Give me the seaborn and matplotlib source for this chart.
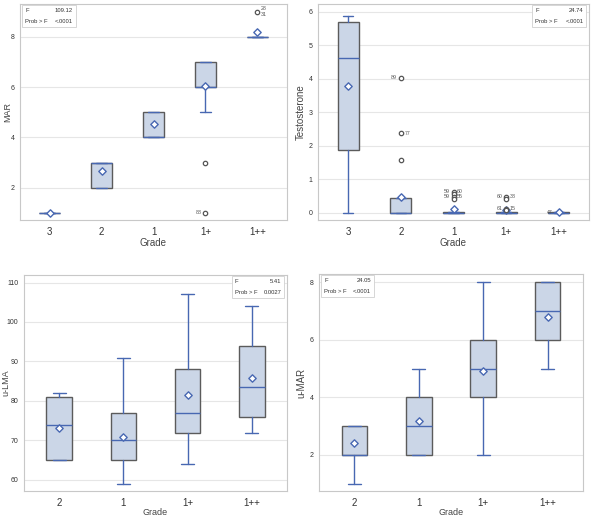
import numpy as np
import pandas as pd
import matplotlib
matplotlib.use("Agg")
import matplotlib.pyplot as plt
from matplotlib.patches import Rectangle
import seaborn as sns

# ---- data (box summary per grade) ----
mar_grades = ["3", "2", "1", "1+", "1++"]
mar_q1 = [1, 2, 4, 6, 8]
mar_med = [1, 3, 4, 6, 8]
mar_q3 = [1, 3, 5, 7, 8]
mar_wlo = [1, 2, 4, 5, 8]
mar_whi = [1, 3, 5, 7, 8]
mar_mean = [1.0, 2.67, 4.52, 6.05, 8.2]
mar_out_x = ["1+", "1+", "1++"]
mar_out_y = [3, 1, 9]
mar_out_lab = [("", ""), ("88", ""), ("", "28\n31")]

tes_grades = ["3", "2", "1", "1+", "1++"]
tes_q1 = [1.87, 0.0, 0.0, 0.0, 0.0]
tes_med = [4.62, 0.0, 0.0, 0.0, 0.0]
tes_q3 = [5.70, 0.43, 0.02, 0.02, 0.01]
tes_wlo = [0.0, 0.0, 0.0, 0.0, 0.0]
tes_whi = [5.87, 0.43, 0.02, 0.02, 0.01]
tes_mean = [3.78, 0.48, 0.10, 0.07, 0.01]
tes_out_x = ["2", "2", "2", "1", "1", "1", "1", "1+", "1+", "1+", "1+"]
tes_out_y = [4.03, 2.37, 1.57, 0.62, 0.57, 0.47, 0.42, 0.47, 0.41, 0.11, 0.08]
tes_out_lab = [("89", ""), ("", "77"), ("", ""), ("59", "60"), ("", ""),
               ("59", "55"), ("", ""), ("60", "38"), ("", ""), ("61", "15"), ("", "")]

lma_grades = ["2", "1", "1+", "1++"]
lma_q1 = [65, 65, 72, 76]
lma_med = [74, 70, 77, 83.5]
lma_q3 = [81, 77, 88, 94]
lma_wlo = [65, 59, 64, 72]
lma_whi = [82, 91, 107, 104]
lma_mean = [73.1, 70.9, 81.5, 85.9]

umar_grades = ["2", "1", "1+", "1++"]
umar_q1 = [2, 2, 4, 6]
umar_med = [2, 3, 5, 7]
umar_q3 = [3, 4, 6, 8]
umar_wlo = [1, 2, 2, 5]
umar_whi = [3, 5, 8, 8]
umar_mean = [2.43, 3.17, 4.93, 6.8]

sns.set_style("whitegrid")
plt.rcParams["font.family"] = ["Liberation Sans", "DejaVu Sans"]

BOX_FILL = "#cbd6e7"
BOX_EDGE = "#5b5b5b"
BLUE = "#4868b2"
GRID = "#e6e6e6"

W, H = 592, 517
fig = plt.figure(figsize=(W / 100, H / 100), dpi=100)


def make_ax(left, top, right, bottom):
    return fig.add_axes([left / W, 1 - bottom / H, (right - left) / W, (bottom - top) / H])


def draw_panel(ax, grades, q1, med, q3, wlo, whi, mean, ylabel, ylim, yticks,
               stat, stat_left, out_x=None, out_y=None, out_lab=None):
    pos = {g: i for i, g in enumerate(grades)}
    stats = []
    for i, g in enumerate(grades):
        stats.append(dict(label=g, q1=q1[i], med=med[i], q3=q3[i],
                          whislo=wlo[i], whishi=whi[i], fliers=[]))
    ax.bxp(stats, positions=range(len(grades)), widths=0.4, patch_artist=True,
           showfliers=False, capwidths=0.2,
           boxprops=dict(facecolor=BOX_FILL, edgecolor=BOX_EDGE, linewidth=1.0),
           medianprops=dict(color=BLUE, linewidth=1.0),
           whiskerprops=dict(color=BLUE, linewidth=1.0),
           capprops=dict(color=BLUE, linewidth=1.0))
    sns.scatterplot(x=list(range(len(grades))), y=mean, ax=ax, marker="D", s=14,
                    facecolor="white", edgecolor=BLUE, linewidth=1.0, zorder=5)
    if out_x:
        xs = [pos[g] for g in out_x]
        sns.scatterplot(x=xs, y=out_y, ax=ax, marker="o", s=10, facecolor="white",
                        edgecolor="#555555", linewidth=0.9, zorder=5)
        for x, y, (l, r) in zip(xs, out_y, out_lab):
            if l:
                ax.text(x - 0.07, y, l, fontsize=3.8, color="#555555",
                        ha="right", va="center")
            if r:
                ax.text(x + 0.07, y, r, fontsize=3.8, color="#555555",
                        ha="left", va="center")
    pad = 0.57 if len(grades) == 5 else 0.55
    ax.set_xlim(-pad, len(grades) - 1 + pad)
    ax.set_ylim(*ylim)
    ax.set_yticks(yticks)
    ax.set_xticks(range(len(grades)))
    ax.set_xticklabels(grades)
    ax.tick_params(axis="x", labelsize=7, colors="#333333", length=3, pad=2)
    ax.tick_params(axis="y", labelsize=5, colors="#333333", length=2, pad=2)
    ax.grid(axis="x", visible=False)
    ax.grid(axis="y", color=GRID, linewidth=0.8)
    for s in ax.spines.values():
        s.set_color("#c8c8c8")
        s.set_linewidth(0.8)
    ax.set_xlabel("Grade", fontsize=7, color="#444444", labelpad=1)
    ax.set_ylabel(ylabel, fontsize=7, color="#444444", labelpad=2)
    # F statistic inset
    x0 = 0.008 if stat_left else 0.79
    bw = 0.2
    ax.add_patch(Rectangle((x0, 0.895), bw, 0.1, transform=ax.transAxes,
                           facecolor="white", edgecolor="#d0d0d0", linewidth=0.6, zorder=6))
    ax.text(x0 + 0.012, 0.97, "F", transform=ax.transAxes, fontsize=4.2,
            color="#333333", va="center", ha="left", zorder=7)
    ax.text(x0 + bw - 0.01, 0.97, stat[0], transform=ax.transAxes, fontsize=4.2,
            color="#333333", va="center", ha="right", zorder=7)
    ax.text(x0 + 0.012, 0.92, "Prob > F", transform=ax.transAxes, fontsize=4.2,
            color="#333333", va="center", ha="left", zorder=7)
    ax.text(x0 + bw - 0.01, 0.92, stat[1], transform=ax.transAxes, fontsize=4.2,
            color="#333333", va="center", ha="right", zorder=7)


ax1 = make_ax(20, 4, 287, 220)
draw_panel(ax1, mar_grades, mar_q1, mar_med, mar_q3, mar_wlo, mar_whi, mar_mean,
           "MAR", (0.72, 9.3), [2, 4, 6, 8], ("109.12", "<.0001"), True,
           mar_out_x, mar_out_y, mar_out_lab)

ax2 = make_ax(318, 4, 589, 220)
draw_panel(ax2, tes_grades, tes_q1, tes_med, tes_q3, tes_wlo, tes_whi, tes_mean,
           "Testosterone", (-0.22, 6.23), [0, 1, 2, 3, 4, 5, 6], ("24.74", "<.0001"), False,
           tes_out_x, tes_out_y, tes_out_lab)
ax2.text(4 - 0.12, 0.0, "47", fontsize=3.8, color="#555555", ha="right", va="center")

ax3 = make_ax(24, 275, 287, 491)
draw_panel(ax3, lma_grades, lma_q1, lma_med, lma_q3, lma_wlo, lma_whi, lma_mean,
           "u-LMA", (57.2, 111.9), [60, 70, 80, 90, 100, 110], ("5.41", "0.0027"), False)

ax4 = make_ax(319, 274, 583, 491)
draw_panel(ax4, umar_grades, umar_q1, umar_med, umar_q3, umar_wlo, umar_whi, umar_mean,
           "u-MAR", (0.75, 8.28), [2, 4, 6, 8], ("24.05", "<.0001"), True)

# bottom row: tighter x-label so it stays inside the canvas
for ax in (ax3, ax4):
    ax.xaxis.labelpad = 0
    ax.xaxis.label.set_size(6.5)

# left column y-labels sit hard against the left edge; keep them fully inside
for ax, cx in ((ax1, -0.03), (ax3, -0.05)):
    ax.yaxis.label.set_size(6.5)
    ax.yaxis.set_label_coords(cx, 0.5)

fig.savefig("out.png", dpi=100)
